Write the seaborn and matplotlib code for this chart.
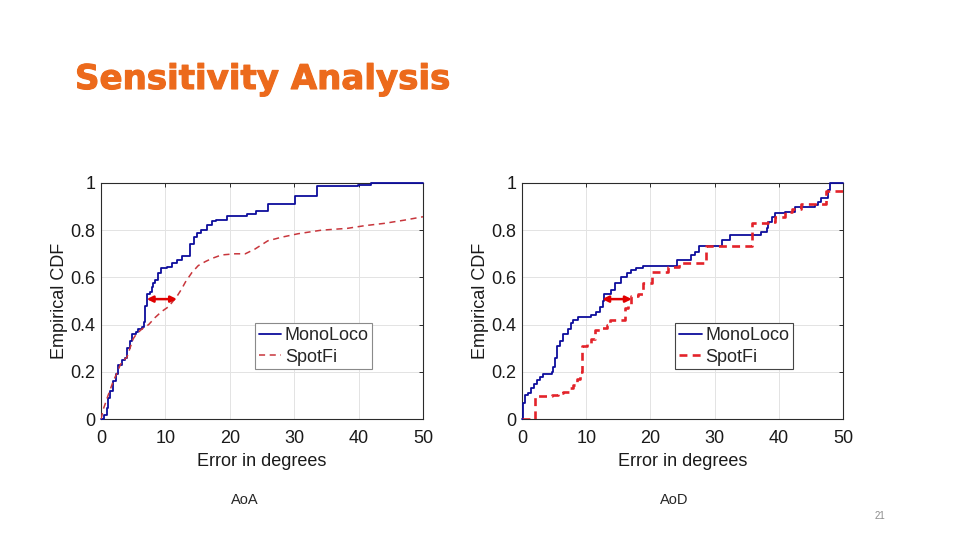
"""Sensitivity analysis slide: empirical CDF of AoA / AoD error, MonoLoco vs SpotFi."""
import matplotlib
matplotlib.use("Agg")
import matplotlib.patheffects as pe
import matplotlib.pyplot as plt
import pandas as pd
import seaborn as sns

# AoA (left panel): step breakpoints (deg) and CDF level after each breakpoint
aoa_mono_x = [0, 0.5, 0.9, 1.1, 1.4, 1.9, 2.4, 2.7, 3.2, 3.7, 4.1, 4.5, 4.8, 5.5, 5.8,
              6.3, 6.7, 6.8, 7.1, 7.6, 7.9, 8.1, 8.4, 8.9, 9.3, 10.2, 11.0, 11.8, 12.5, 13.8,
              14.4, 14.9, 15.6, 16.4, 17.2, 17.9, 19.5, 22.6, 24.0, 26.0, 30.2, 33.6, 39.9, 42.0, 50]
aoa_mono_y = [0, 0.017, 0.045, 0.09, 0.12, 0.16, 0.19, 0.23, 0.25, 0.26, 0.30, 0.33, 0.36, 0.37, 0.38,
              0.39, 0.41, 0.48, 0.53, 0.54, 0.56, 0.575, 0.59, 0.62, 0.64, 0.645, 0.66, 0.675, 0.69, 0.74,
              0.77, 0.79, 0.80, 0.82, 0.84, 0.845, 0.86, 0.87, 0.881, 0.909, 0.945, 0.987, 0.993, 1.0, 1.0]
aoa_spot_x = [0, 0.4, 0.6, 1.1, 1.9, 2.4, 3.0, 3.5, 4.0, 4.5, 5.0, 5.5, 6.3, 7.4, 8.4,
              9.4, 10.5, 11.8, 12.5, 13.1, 14.1, 15.1, 16.2, 17.2, 18.7, 20.8, 22.4, 23.9, 25.9, 28.0,
              30.6, 34.2, 38.3, 40.9, 44.0, 47.2, 50.0]
aoa_spot_y = [0, 0.045, 0.06, 0.10, 0.16, 0.19, 0.23, 0.25, 0.26, 0.30, 0.34, 0.36, 0.38, 0.40, 0.43,
              0.455, 0.476, 0.52, 0.55, 0.58, 0.62, 0.65, 0.667, 0.68, 0.695, 0.70, 0.70, 0.72, 0.755, 0.77,
              0.785, 0.80, 0.808, 0.819, 0.829, 0.843, 0.857]

# AoD (right panel)
aod_mono_x = [0, 0.2, 0.5, 1.0, 1.4, 1.8, 2.3, 2.8, 3.3, 4.6, 4.9, 5.1, 5.5, 5.9, 6.4,
              7.2, 7.6, 8.0, 8.8, 10.8, 11.6, 12.1, 12.6, 12.8, 13.9, 14.5, 15.4, 16.3, 17.0, 17.8,
              18.9, 24.2, 26.4, 26.9, 27.5, 31.1, 32.4, 37.3, 38.1, 38.3, 38.9, 39.4, 40.9, 42.5, 45.6,
              46.1, 46.6, 47.7, 47.9, 50]
aod_mono_y = [0, 0.066, 0.10, 0.11, 0.13, 0.15, 0.165, 0.18, 0.19, 0.20, 0.22, 0.26, 0.31, 0.33, 0.36,
              0.38, 0.405, 0.42, 0.434, 0.44, 0.455, 0.476, 0.50, 0.53, 0.547, 0.575, 0.60, 0.617, 0.63, 0.64,
              0.65, 0.674, 0.695, 0.709, 0.732, 0.758, 0.78, 0.794, 0.808, 0.836, 0.857, 0.871, 0.879, 0.90, 0.907,
              0.921, 0.935, 0.97, 1.0, 1.0]
aod_spot_x = [0, 2.0, 4.6, 5.6, 6.4, 7.5, 8.0, 8.5, 9.0, 9.3, 10.1, 10.8, 11.3, 12.4, 13.2,
              13.7, 16.0, 16.5, 17.0, 18.1, 18.9, 20.2, 22.7, 24.4, 28.7, 35.8, 38.3, 39.4, 40.9, 42.0,
              43.5, 47.4, 50]
aod_spot_y = [0, 0.099, 0.102, 0.109, 0.116, 0.13, 0.144, 0.17, 0.20, 0.31, 0.32, 0.34, 0.377, 0.384, 0.40,
              0.42, 0.47, 0.483, 0.52, 0.53, 0.575, 0.624, 0.645, 0.66, 0.734, 0.829, 0.836, 0.857, 0.879, 0.89,
              0.91, 0.967, 0.967]

# gap arrows at the median
arrow_level = 0.508
aoa_gap = (7.1, 11.8)
aod_gap = (12.5, 17.1)

x_ticks = [0, 10, 20, 30, 40, 50]
y_ticks = [0, 0.2, 0.4, 0.6, 0.8, 1]
y_tick_labels = ["0", "0.2", "0.4", "0.6", "0.8", "1"]

title = "Sensitivity Analysis"
captions = ["AoA", "AoD"]
page_no = "21"

BLUE = "#0d0d9c"
ORANGE = "#ec6a1c"

sns.set_theme(style="whitegrid")
plt.rcParams["font.family"] = ["Liberation Sans", "DejaVu Sans"]

fig = plt.figure(figsize=(9.6, 5.4), dpi=100)
fig.patch.set_facecolor("white")

ax_l = fig.add_axes([101 / 960, 1 - 419 / 540, 322 / 960, 236 / 540])
ax_r = fig.add_axes([522 / 960, 1 - 419 / 540, 321 / 960, 236 / 540])

panels = [
    (ax_l, aoa_mono_x, aoa_mono_y, aoa_spot_x, aoa_spot_y, aoa_gap, False),
    (ax_r, aod_mono_x, aod_mono_y, aod_spot_x, aod_spot_y, aod_gap, True),
]

for ax, mx, my, sx, sy, gap, spot_steps in panels:
    mono = pd.DataFrame({"err": mx, "cdf": my})
    spot = pd.DataFrame({"err": sx, "cdf": sy})
    sns.lineplot(data=mono, x="err", y="cdf", ax=ax, color=BLUE, lw=1.3, zorder=3, clip_on=False,
                 drawstyle="steps-post", estimator=None, sort=False, label="MonoLoco")
    if spot_steps:
        sns.lineplot(data=spot, x="err", y="cdf", ax=ax, color="#e3232a", lw=1.9, zorder=3,
                     ls=(0, (3, 2)), drawstyle="steps-post", estimator=None, sort=False,
                     label="SpotFi")
    else:
        sns.lineplot(data=spot, x="err", y="cdf", ax=ax, color="#c8363c", lw=1.1, zorder=3,
                     ls=(0, (4, 3)), estimator=None, sort=False, label="SpotFi")

    ax.annotate("", xy=(gap[1], arrow_level), xytext=(gap[0], arrow_level), zorder=4,
                arrowprops=dict(arrowstyle="<|-|>", color="#e00000", lw=1.8,
                                mutation_scale=9, shrinkA=0, shrinkB=0))

    ax.set_xlim(0, 50)
    ax.set_ylim(0, 1)
    ax.set_xticks(x_ticks)
    ax.set_yticks(y_ticks)
    ax.set_yticklabels(y_tick_labels)
    ax.set_facecolor("white")
    ax.grid(True, color="#e3e3e3", lw=0.7)
    for sp in ax.spines.values():
        sp.set_visible(True)
        sp.set_color("#2b2b2b")
        sp.set_linewidth(0.8)
    ax.tick_params(direction="in", length=3, width=0.7, top=True, right=True,
                   labelsize=13, colors="#2b2b2b", labelcolor="#1a1a1a")
    ax.tick_params(axis="x", pad=8)
    ax.tick_params(axis="y", pad=4)
    ax.set_xlabel("Error in degrees", fontsize=13, color="#1a1a1a", labelpad=4)
    ax.set_ylabel("Empirical CDF", fontsize=13, color="#1a1a1a", labelpad=2)

    leg = ax.legend(loc="lower left", bbox_to_anchor=(0.478, 0.211), borderaxespad=0,
                    fontsize=13, handlelength=1.25, handletextpad=0.2, borderpad=0.2,
                    labelspacing=0.25, fancybox=False, framealpha=1)
    leg.get_frame().set_edgecolor("#8a8a8a" if not spot_steps else "#444444")
    leg.get_frame().set_linewidth(0.8)

fig.text(75 / 960, 1 - 89 / 540, title, fontsize=24.5, fontweight="bold",
         color=ORANGE, family="DejaVu Sans", va="baseline", ha="left",
         path_effects=[pe.withStroke(linewidth=0.8, foreground=ORANGE)])
fig.text(245 / 960, 1 - 500 / 540, captions[0], fontsize=10.5, ha="center", va="center")
fig.text(674 / 960, 1 - 500 / 540, captions[1], fontsize=10.5, ha="center", va="center")
fig.text(880 / 960, 1 - 516 / 540, page_no, fontsize=7, color="#8c8c8c", ha="center", va="center")

fig.savefig("out.png", dpi=100)
